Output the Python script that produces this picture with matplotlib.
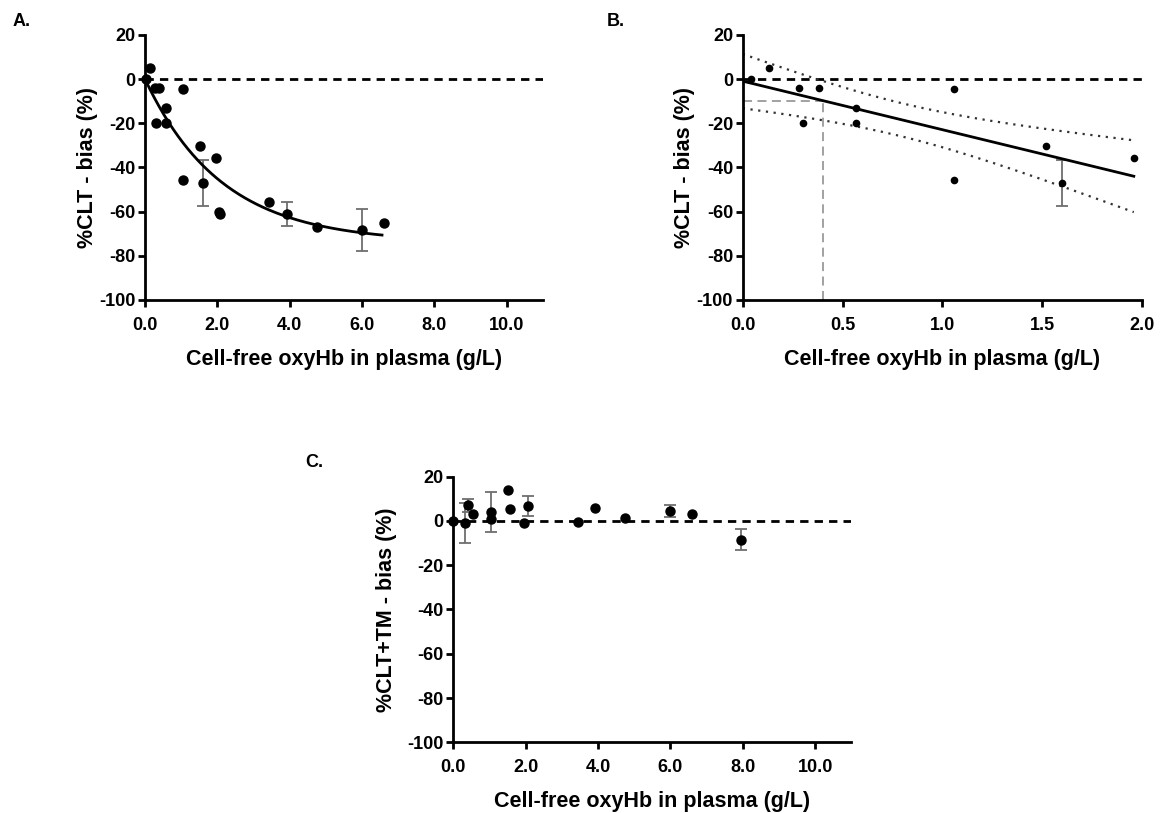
import numpy as np
import matplotlib
matplotlib.use('Agg')
from matplotlib import pyplot as plt
from matplotlib.ticker import FormatStrFormatter

plt.rcParams['font.family'] = ['Liberation Sans', 'DejaVu Sans']
plt.rcParams['font.weight'] = 'bold'
plt.rcParams['axes.unicode_minus'] = False

# panel A / B: %CLT bias vs cell-free oxyHb
oxyhb_a = [0.04, 0.13, 0.28, 0.38, 0.30, 0.57, 0.57, 1.06, 1.06, 1.52, 1.60, 1.96, 2.05, 2.07, 3.42, 3.93, 4.74, 6.01, 6.60]
bias_a = [0, 5, -4, -4, -20, -13, -20, -4.5, -45.5, -30.5, -47, -35.5, -60, -61, -55.5, -61, -67, -68.5, -65]
err_a = [0, 0, 0, 0, 0, 0, 0, 0, 0, 0, 10.5, 0, 0, 0, 0, 5.5, 0, 9.5, 0]

# one-phase decay fit parameters for panel A
fit_plateau = -74.0
fit_k = 0.47
fit_xmax = 6.55

# panel B reference lines (bias limit and oxyHb cut-off)
bias_limit = -10
oxyhb_cutoff = 0.4

# panel C: %CLT+TM bias
oxyhb_c = [0.0, 0.32, 0.40, 0.55, 1.04, 1.04, 1.52, 1.58, 1.96, 2.07, 3.44, 3.93, 4.74, 6.00, 6.61, 7.95]
bias_c = [0, -1, 7, 3, 4, 1, 14, 5.5, -1, 6.8, -0.3, 6, 1.5, 4.7, 3, -8.5]
err_c = [0, 9, 3, 0, 9, 0, 0, 0, 0, 4.5, 0, 0, 0, 2.7, 0, 4.8]

XLABEL = 'Cell-free oxyHb in plasma (g/L)'
LABEL_FS = 15.5
TICK_FS = 13


def style_axes(ax, xmax, xticks, ylabel, ypad=1):
    ax.set_xlim(0, xmax)
    ax.set_ylim(-100, 20)
    ax.set_yticks(np.arange(-100, 21, 20))
    ax.set_xticks(xticks)
    ax.xaxis.set_major_formatter(FormatStrFormatter('%.1f'))
    for s in ['top', 'right']:
        ax.spines[s].set_visible(False)
    for s in ['left', 'bottom']:
        ax.spines[s].set_linewidth(2)
    ax.tick_params(direction='out', length=5, width=2, labelsize=TICK_FS)
    ax.tick_params(axis='x', pad=7)
    ax.tick_params(axis='y', pad=2)
    for lab in ax.get_xticklabels() + ax.get_yticklabels():
        lab.set_fontweight('bold')
    ax.set_xlabel(XLABEL, fontsize=LABEL_FS, fontweight='bold', labelpad=11)
    ax.set_ylabel(ylabel, fontsize=LABEL_FS, fontweight='bold', labelpad=ypad)
    ax.axhline(0, color='black', lw=2, ls=(0, (3, 2.2)), zorder=1)


def points(ax, x, y, e, ms):
    x, y, e = np.array(x), np.array(y), np.array(e)
    has = e > 0
    ax.errorbar(x[has], y[has], yerr=e[has], fmt='none', ecolor='#6e6e6e',
                elinewidth=1.3, capsize=4.5, capthick=1.3, zorder=2, clip_on=False)
    ax.plot(x, y, 'o', color='black', ms=ms, zorder=3, clip_on=False)


fig = plt.figure(figsize=(11.62, 8.13), dpi=100)

# ---- A ----
axA = fig.add_axes([0.1248, 0.631, 0.3425, 0.326])
style_axes(axA, 11, np.arange(0, 11, 2), '%CLT - bias (%)')
points(axA, oxyhb_a, bias_a, err_a, 6.5)
xf = np.linspace(0, fit_xmax, 200)
axA.plot(xf, fit_plateau * (1 - np.exp(-fit_k * xf)), color='black', lw=2, zorder=2)

# ---- B ----
axB = fig.add_axes([0.6392, 0.631, 0.3434, 0.326])
style_axes(axB, 2, np.arange(0, 2.01, 0.5), '%CLT - bias (%)')
xa, ya, ea = np.array(oxyhb_a), np.array(bias_a), np.array(err_a)
sel = xa <= 2.0
xb, yb, eb = xa[sel], ya[sel], ea[sel]
points(axB, xb, yb, eb, 4.5)

# linear regression with 95% confidence band
n = len(xb)
slope, intercept = np.polyfit(xb, yb, 1)
resid = yb - (slope * xb + intercept)
s = np.sqrt(np.sum(resid ** 2) / (n - 2))
sxx = np.sum((xb - xb.mean()) ** 2)
t_crit = 2.228
xl = np.linspace(0, xb.max(), 200)
yl = slope * xl + intercept
half = t_crit * s * np.sqrt(1 / n + (xl - xb.mean()) ** 2 / sxx)
axB.plot(xl, yl, color='black', lw=2, zorder=2)
axB.plot(xl, yl + half, color='#333333', lw=1.6, ls=(0, (1, 2.5)), zorder=2)
axB.plot(xl, yl - half, color='#333333', lw=1.6, ls=(0, (1, 2.5)), zorder=2)
axB.plot([0, oxyhb_cutoff], [bias_limit, bias_limit], color='#9a9a9a', lw=1.3, ls=(0, (5, 3)), zorder=1)
axB.plot([oxyhb_cutoff, oxyhb_cutoff], [-100, bias_limit], color='#9a9a9a', lw=1.3, ls=(0, (5, 3)), zorder=1)

# ---- C ----
axC = fig.add_axes([0.3901, 0.087, 0.3425, 0.3267])
style_axes(axC, 11, np.arange(0, 11, 2), '%CLT+TM - bias (%)', ypad=7)
points(axC, oxyhb_c, bias_c, err_c, 6.5)

fig.text(0.011, 0.974, 'A.', fontsize=13, fontweight='bold', va='center', ha='left')
fig.text(0.522, 0.974, 'B.', fontsize=13, fontweight='bold', va='center', ha='left')
fig.text(0.263, 0.431, 'C.', fontsize=13, fontweight='bold', va='center', ha='left')

fig.savefig('out.png', dpi=100)
